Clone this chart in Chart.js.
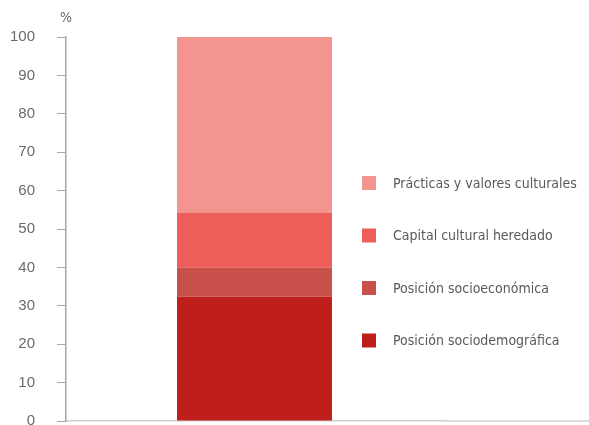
<!DOCTYPE html>
<html>
<head>
<meta charset="utf-8">
<script src="https://cdn.jsdelivr.net/npm/chart.js@4"></script>
<style>
  html, body { margin: 0; padding: 0; background: #fff; }
  #wrap { width: 589px; height: 425px; position: relative; }
</style>
</head>
<body>
<div id="wrap"><canvas id="chart"></canvas></div>
<script>
// single stacked bar, % shares by factor group
const categories = [''];
const seriesLabels = ['Posición sociodemográfica', 'Posición socioeconómica', 'Capital cultural heredado', 'Prácticas y valores culturales'];
const seriesValues = [32.4, 7.5, 14.4, 45.7];
const seriesColors = ['#be1f1b', '#c8504b', '#ed5d59', '#f3948f'];
const yMin = 0, yMax = 100, yStep = 10;

const narrow = '"Liberation Sans Narrow", "DejaVu Sans Condensed", sans-serif';

// legend drawn by hand so it can sit over the empty right side like the original
const sideLegend = {
    id: 'sideLegend',
    afterDraw(chart) {
        const ctx = chart.ctx;
        const area = chart.chartArea;
        ctx.save();
        // baseline runs on across the whole width
        ctx.strokeStyle = '#cfcfcf';
        ctx.lineWidth = 1.5;
        ctx.beginPath();
        ctx.moveTo(area.right, area.bottom);
        ctx.lineTo(chart.width, area.bottom);
        ctx.stroke();

        // "%" unit over the y axis
        ctx.fillStyle = '#666';
        ctx.font = '14px ' + narrow;
        ctx.textAlign = 'center';
        ctx.textBaseline = 'middle';
        ctx.fillText('%', area.left, 18);

        ctx.font = '14px ' + narrow;
        ctx.textAlign = 'left';
        const ds = chart.data.datasets.slice().reverse();
        ds.forEach((d, i) => {
            const y = 183 + i * 52.5;
            ctx.fillStyle = d.backgroundColor;
            ctx.fillRect(362, y - 7, 14, 14);
            ctx.fillStyle = '#5a5a5a';
            ctx.fillText(d.label, 393, y + 1);
        });
        ctx.restore();
    }
};

const datasets = seriesLabels.map((label, i) => ({
    label: label,
    data: [seriesValues[i]],
    backgroundColor: seriesColors[i],
    borderWidth: 0,
    barPercentage: 0.411,
    categoryPercentage: 1
}));

new Chart(document.getElementById('chart'), {
    type: 'bar',
    data: { labels: categories, datasets: datasets },
    options: {
        responsive: true,
        maintainAspectRatio: false,
        animation: false,
        layout: { padding: { top: 37, bottom: 4, left: 0, right: 146 } },
        plugins: {
            legend: { display: false },
            tooltip: { enabled: false }
        },
        scales: {
            x: {
                stacked: true,
                grid: { display: false, drawTicks: false },
                ticks: { display: false },
                border: { display: true, color: '#cfcfcf', width: 1.5 }
            },
            y: {
                stacked: true,
                min: yMin,
                max: yMax,
                ticks: {
                    stepSize: yStep,
                    color: '#6a6a6a',
                    padding: 22,
                    font: { family: "'Liberation Sans', sans-serif", size: 15 }
                },
                grid: { display: true, drawOnChartArea: false, drawTicks: true, tickLength: 9, color: '#aaa' },
                border: { display: true, color: '#a5a5a5', width: 1.5 },
                afterFit: s => {
                    // keep the "0" label from pushing the plot up; bottom is cut like the original
                    s.width = 66;
                    s.paddingTop = 0;
                    s.paddingBottom = 0;
                }
            }
        }
    },
    plugins: [sideLegend]
});
</script>
</body>
</html>
